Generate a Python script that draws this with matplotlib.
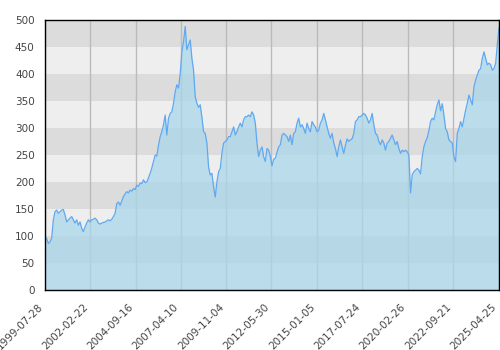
import matplotlib
matplotlib.use("Agg")
import matplotlib.pyplot as plt
import matplotlib.transforms as mtransforms
import pandas as pd

start_date = "1999-07-28"
end_date = "2025-04-25"

values = [
    100, 95, 86, 89, 96, 130, 145, 148, 142, 145,
    148, 149, 139, 126, 130, 133, 136, 130, 124, 130,
    120, 126, 114, 108, 117, 124, 130, 126, 130, 131,
    133, 130, 124, 122, 124, 125, 126, 128, 130, 128,
    131, 136, 142, 160, 163, 157, 165, 173, 178, 182,
    180, 185, 183, 188, 186, 194, 192, 198, 197, 204,
    199, 200, 208, 216, 226, 238, 250, 248, 268, 284,
    293, 306, 324, 287, 318, 327, 330, 346, 367, 380,
    374, 401, 441, 460, 488, 445, 454, 463, 429, 407,
    358, 346, 338, 343, 320, 293, 290, 272, 228, 213,
    216, 191, 172, 200, 219, 225, 253, 272, 275, 278,
    284, 284, 293, 302, 287, 293, 302, 309, 302, 315,
    321, 321, 324, 321, 330, 324, 309, 272, 247, 259,
    265, 247, 238, 262, 259, 247, 230, 242, 244, 255,
    265, 269, 287, 290, 287, 284, 275, 287, 269, 290,
    293, 309, 318, 302, 306, 299, 290, 309, 299, 293,
    312, 306, 302, 293, 296, 309, 315, 327, 315, 302,
    290, 281, 290, 272, 262, 247, 265, 278, 265, 253,
    268, 280, 275, 278, 280, 290, 312, 315, 321, 321,
    324, 327, 324, 318, 309, 315, 327, 306, 290, 287,
    275, 269, 278, 272, 259, 272, 275, 281, 287, 278,
    269, 275, 262, 253, 259, 256, 259, 256, 250, 180,
    213, 219, 222, 225, 222, 215, 247, 265, 275, 282,
    295, 312, 318, 315, 330, 343, 352, 332, 345, 324,
    299, 293, 278, 275, 272, 247, 238, 290, 299, 312,
    302, 318, 333, 346, 361, 352, 343, 376, 389, 398,
    407, 410, 429, 441, 429, 417, 420, 417, 407, 410,
    420, 455, 485,
]

dates = pd.date_range(start_date, end_date, periods=len(values))

tick_labels = ["1999-07-28", "2002-02-22", "2004-09-16", "2007-04-10",
               "2009-11-04", "2012-05-30", "2015-01-05", "2017-07-24",
               "2020-02-26", "2022-09-21", "2025-04-25"]
y_ticks = [0, 50, 100, 150, 200, 250, 300, 350, 400, 450, 500]

fig = plt.figure(figsize=(5, 3.5), dpi=100)
ax = fig.add_axes([45 / 500, 60 / 350, 454 / 500, 270 / 350])

x0 = pd.Timestamp(start_date)
x1 = pd.Timestamp(end_date)
ax.set_xlim(x0, x1)
ax.set_ylim(0, 500)

# alternating background bands
for i in range(len(y_ticks) - 1):
    col = "#eeeeee" if i % 2 == 0 else "#dcdcdc"
    ax.axhspan(y_ticks[i], y_ticks[i + 1], color=col, zorder=0, lw=0)

tick_dates = pd.to_datetime(tick_labels)
for d in tick_dates:
    ax.axvline(d, color="#bbbbbb", lw=1, zorder=1)

ax.fill_between(dates, values, 0, color="#a9d6ea", alpha=0.75, lw=0, zorder=2)
ax.plot(dates, values, color="#5ea9f2", lw=0.9, zorder=3)

ax.set_xticks(tick_dates)
ax.set_xticklabels([])
offset = mtransforms.ScaledTranslation(-0.04, -0.15, fig.dpi_scale_trans)
trans = ax.get_xaxis_transform() + offset
for d, lab in zip(tick_dates, tick_labels):
    ax.text(d, 0, lab, transform=trans, rotation=45, ha="right", va="center",
            rotation_mode="anchor", fontsize=7.5, color="#444444", clip_on=False)

ax.set_yticks(y_ticks)
ax.set_yticklabels([str(v) for v in y_ticks], fontsize=7.5, color="#444444")
ax.tick_params(axis="x", length=0)
ax.tick_params(axis="y", length=0, pad=7.5)

for s in ax.spines.values():
    s.set_color("black")
    s.set_linewidth(1)
    s.set_zorder(5)

fig.savefig("out.png", dpi=100)
